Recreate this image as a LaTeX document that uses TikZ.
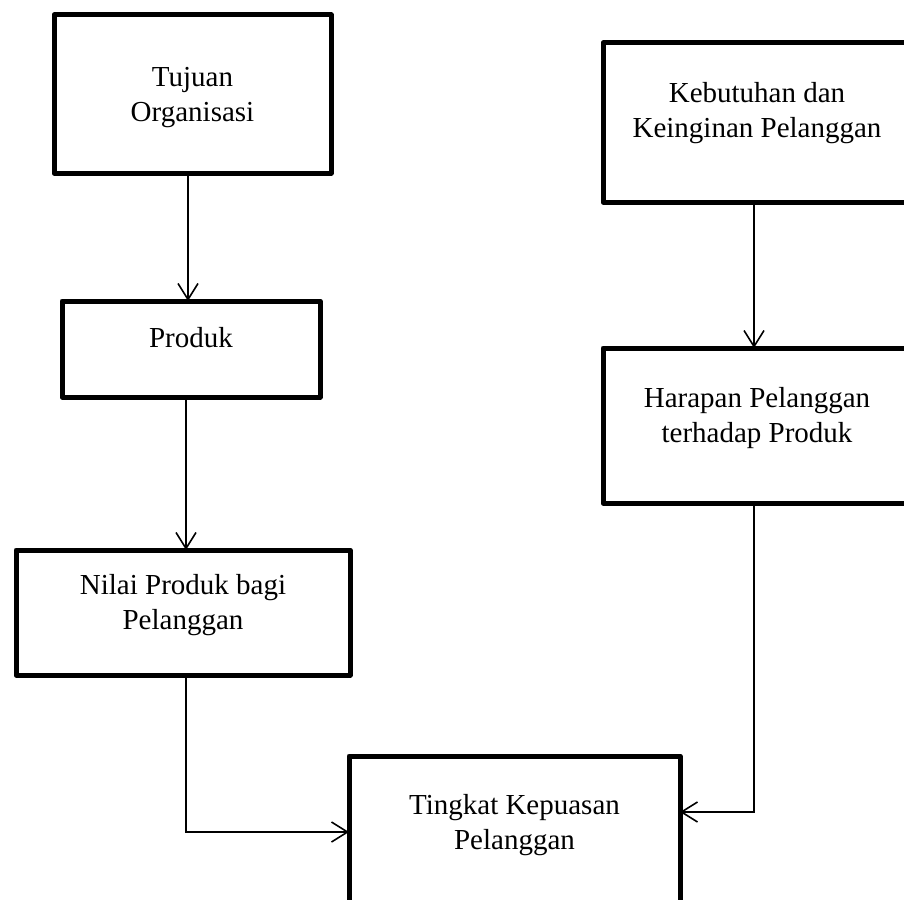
\documentclass[tikz,border=0pt]{standalone}
\usepackage{fontspec}
\setmainfont{Liberation Serif}
\usetikzlibrary{arrows.meta}
\newcommand\twolines[2]{\strut#1\\\strut#2}
\begin{document}
\begin{tikzpicture}[x=1pt,y=-1pt,
  box/.style={draw, line width=5pt, inner sep=0pt, outer sep=0pt, line join=round},
  lbl/.style={align=center, inner sep=0pt, font=\fontsize{29}{35}\selectfont},
  arr/.style={line width=1.8pt, -{Straight Barb[length=16pt, width=20pt, line width=1.6pt]}}]
\useasboundingbox (0,0) rectangle (904,899);
\clip (0,0) rectangle (904,899);

% boxes
\node[box, minimum width=277pt, minimum height=158pt] (b1) at (192.5,94) {};
\node[box, minimum width=308pt, minimum height=159pt] (b2) at (757,122.5) {};
\node[box, minimum width=258pt, minimum height=96pt]  (b3) at (191,349) {};
\node[box, minimum width=308pt, minimum height=155pt] (b4) at (757,425.5) {};
\node[box, minimum width=334pt, minimum height=125pt] (b5) at (183,612.5) {};
\node[box, minimum width=331pt, minimum height=152pt] (b6) at (514.5,832) {};

% labels
\node[lbl] (t1) at (192.5,96.5) {\twolines{Tujuan}{Organisasi}};
\node[lbl] (t2) at (757,112.5) {\twolines{Kebutuhan dan}{Keinginan Pelanggan}};
\node[lbl] (t3) at (191,340) {\strut Produk};
\node[lbl] (t4) at (757,417.5) {\twolines{Harapan Pelanggan}{terhadap Produk}};
\node[lbl] (t5) at (183,604.5) {\twolines{Nilai Produk bagi}{Pelanggan}};
\node[lbl] (t6) at (514.5,824.5) {\twolines{Tingkat Kepuasan}{Pelanggan}};

% connectors
\draw[arr] ([xshift=-4.5pt]b1.south) -- ([xshift=-3pt]b3.north);
\draw[arr] ([xshift=-5pt]b3.south) -- ([xshift=3pt]b5.north);
\draw[arr] ([xshift=-3pt]b2.south) -- ([xshift=-3pt]b4.north);
\draw[arr] ([xshift=3pt]b5.south) |- (b6.west);
\draw[arr] ([xshift=-3pt]b4.south) |- ([yshift=20pt]b6.east);
\end{tikzpicture}
\end{document}
